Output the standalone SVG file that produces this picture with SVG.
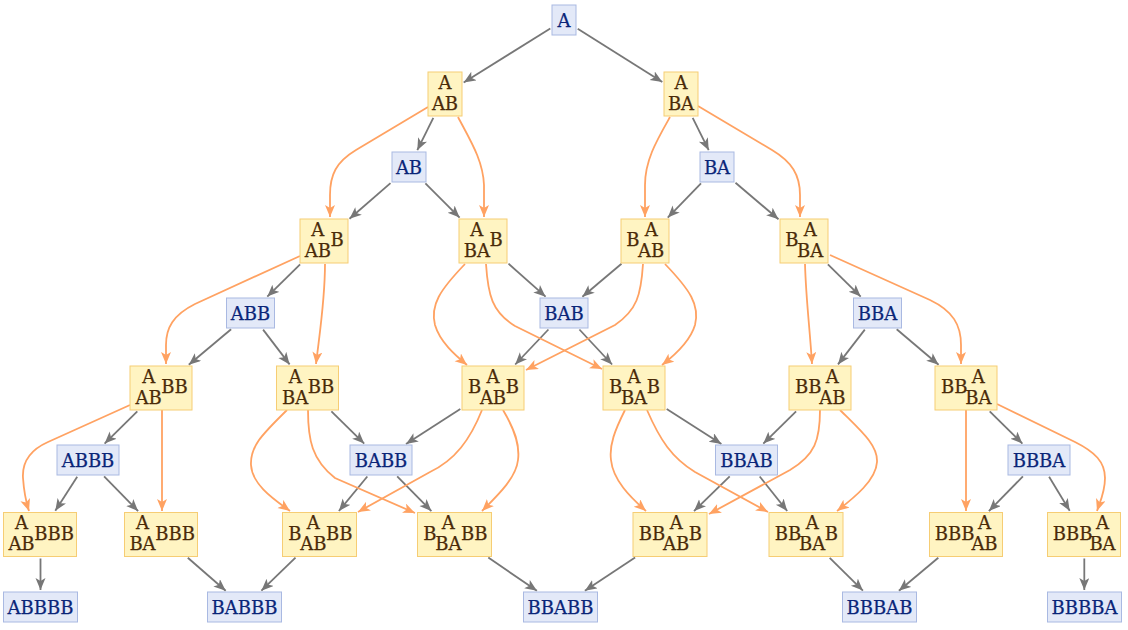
<svg xmlns="http://www.w3.org/2000/svg" width="1128" height="630" viewBox="0 0 1128 630">
<defs>
<style>
.bn rect{fill:#e3e9f8;stroke:#a9b9e2;stroke-width:1}
.yn rect{fill:#fff4c2;stroke:#f6cd74;stroke-width:1}
.bn text{font-family:"DejaVu Serif",serif;font-size:18px;fill:#0a2578;stroke:#0a2578;stroke-width:0.25;text-anchor:middle}
.yn text{font-family:"DejaVu Serif",serif;font-size:18px;fill:#4a2a08;stroke:#4a2a08;stroke-width:0.25}
.yn text.c{text-anchor:middle}
.ge{fill:none;stroke:#777777;stroke-width:1.8;marker-end:url(#ag)}
.oe{fill:none;stroke:#ffa262;stroke-width:1.8;marker-end:url(#ao)}
</style>
<marker id="ag" markerUnits="userSpaceOnUse" markerWidth="13" markerHeight="11" refX="12" refY="5" orient="auto"><path d="M0,0 L12,5 L0,10 L3,5 z" fill="#777777"/></marker>
<marker id="ao" markerUnits="userSpaceOnUse" markerWidth="13" markerHeight="11" refX="12" refY="5" orient="auto"><path d="M0,0 L12,5 L0,10 L3,5 z" fill="#ffa262"/></marker>
</defs>
<rect width="1128" height="630" fill="#ffffff"/>
<g id="connectors">
<path class="ge" d="M550.3,28.5 L463.7,82.4"/>
<path class="ge" d="M577.7,28.7 L662.3,82.1"/>
<path class="ge" d="M433.3,117.8 L417.3,150.2"/>
<path class="ge" d="M692.7,117.8 L708.7,150.2"/>
<path class="ge" d="M390.5,183.1 L349.5,218.8"/>
<path class="ge" d="M425.4,183.4 L459.6,217.6"/>
<path class="ge" d="M701,183.4 L667.8,217.6"/>
<path class="ge" d="M735.5,182.7 L778.5,219.3"/>
<path class="ge" d="M300.1,264.4 L267.3,296.6"/>
<path class="ge" d="M508.5,263.7 L545.6,296.7"/>
<path class="ge" d="M621.5,263.7 L582.4,296.7"/>
<path class="ge" d="M827.9,264.4 L860.7,296.6"/>
<path class="ge" d="M231.1,329.3 L188.8,364.7"/>
<path class="ge" d="M263.1,329.6 L289.6,364.4"/>
<path class="ge" d="M548.4,329.5 L515.2,364.5"/>
<path class="ge" d="M579.4,329.5 L612.1,364.5"/>
<path class="ge" d="M864.8,329.6 L838,364.4"/>
<path class="ge" d="M896.7,329.3 L938.6,364.7"/>
<path class="ge" d="M137.3,411.4 L104.6,443.6"/>
<path class="ge" d="M331.4,411.4 L364.2,443.6"/>
<path class="ge" d="M460.3,409 L406,443.9"/>
<path class="ge" d="M666.7,409 L721.4,443.9"/>
<path class="ge" d="M796.1,411.4 L763.3,443.6"/>
<path class="ge" d="M989.7,411.4 L1022.4,443.6"/>
<path class="ge" d="M77.2,476.7 L55.3,510.8"/>
<path class="ge" d="M104.1,476.4 L138.1,511.1"/>
<path class="ge" d="M367.3,476.5 L338.9,511"/>
<path class="ge" d="M397.2,476.4 L431.4,511.1"/>
<path class="ge" d="M729.7,476.4 L694,511.1"/>
<path class="ge" d="M759.7,476.5 L787.2,511"/>
<path class="ge" d="M1022.9,476.4 L988.9,511.1"/>
<path class="ge" d="M1049.1,476.7 L1069.7,510.8"/>
<path class="ge" d="M40.5,558.5 L40.5,590"/>
<path class="ge" d="M187.8,557.8 L225.7,590.7"/>
<path class="ge" d="M295.5,557.7 L261.4,590.7"/>
<path class="ge" d="M488.3,557.6 L536.9,590.8"/>
<path class="ge" d="M635.1,557.6 L584.9,590.8"/>
<path class="ge" d="M829.7,557.8 L862.9,590.6"/>
<path class="ge" d="M938.3,557.7 L898.9,590.8"/>
<path class="ge" d="M1084.3,558.5 L1084.3,590"/>
<path class="oe" d="M428,107 L356,150 C336,162 330,175 330,195 L330,217"/>
<path class="oe" d="M458,117 C470,140 483,160 484,185 L484,217"/>
<path class="oe" d="M670,117 C657,140 645,160 645,185 L645,217"/>
<path class="oe" d="M698,106 L772,150 C792,162 800,175 800,195 L800,217"/>
<path class="oe" d="M300,256 L195,304 C173,315 166,328 166,345 L166,364"/>
<path class="oe" d="M325,264 C325,300 320,330 316,364"/>
<path class="oe" d="M465,264 C440,290 430,305 435,325 C440,342 455,355 467,365"/>
<path class="oe" d="M486,264 C488,295 492,312 515,326 L602,369"/>
<path class="oe" d="M643,264 C641,295 637,310 615,325 L526,370"/>
<path class="oe" d="M665,264 C690,290 700,305 695,325 C690,342 675,355 662,365"/>
<path class="oe" d="M805,264 C806,300 810,330 812,364"/>
<path class="oe" d="M830,255 L930,300 C953,311 961,325 961,345 L961,364"/>
<path class="oe" d="M130,405 L48,442 C30,450 22,462 23,478 C24,492 26,502 29,511"/>
<path class="oe" d="M162,410 L162,511"/>
<path class="oe" d="M287,410 C265,432 250,445 251,465 C252,485 275,500 290,511"/>
<path class="oe" d="M308,410 C308,440 312,460 335,478 L415,513"/>
<path class="oe" d="M482,410 C470,440 455,460 430,472 L358,512"/>
<path class="oe" d="M503,410 C515,430 520,445 518,460 C516,478 498,495 482,511"/>
<path class="oe" d="M625,410 C615,430 609,445 611,460 C613,480 630,497 646,511"/>
<path class="oe" d="M647,410 C660,440 672,458 695,472 L768,512"/>
<path class="oe" d="M820,410 C820,440 815,455 790,470 L709,514"/>
<path class="oe" d="M840,410 C860,430 878,445 877,462 C876,480 855,497 837,511"/>
<path class="oe" d="M966,410 L966,511"/>
<path class="oe" d="M997,404 L1075,442 C1095,452 1105,462 1105,478 C1105,492 1100,502 1097,511"/>
</g>
<g id="n-A" class="bn"><rect x="552" y="5" width="24" height="30"/><text x="564" y="26.5">A</text></g>
<g id="n-AB" class="bn"><rect x="392" y="152" width="34" height="30"/><text x="409" y="173.5">AB</text></g>
<g id="n-BA" class="bn"><rect x="700" y="152" width="34" height="30"/><text x="717" y="173.5">BA</text></g>
<g id="n-ABB" class="bn"><rect x="226.5" y="298" width="48" height="30"/><text x="250.5" y="319.5">ABB</text></g>
<g id="n-BAB" class="bn"><rect x="540" y="298" width="48" height="30"/><text x="564" y="319.5">BAB</text></g>
<g id="n-BBA" class="bn"><rect x="853.5" y="298" width="48" height="30"/><text x="877.5" y="319.5">BBA</text></g>
<g id="n-ABBB" class="bn"><rect x="57" y="445" width="62" height="30"/><text x="88" y="466.5">ABBB</text></g>
<g id="n-BABB" class="bn"><rect x="350" y="445" width="62" height="30"/><text x="381" y="466.5">BABB</text></g>
<g id="n-BBAB" class="bn"><rect x="715.5" y="445" width="62" height="30"/><text x="746.5" y="466.5">BBAB</text></g>
<g id="n-BBBA" class="bn"><rect x="1008" y="445" width="62" height="30"/><text x="1039" y="466.5">BBBA</text></g>
<g id="n-ABBBB" class="bn"><rect x="3.5" y="592" width="74" height="30"/><text x="40.5" y="613.5">ABBBB</text></g>
<g id="n-BABBB" class="bn"><rect x="207.5" y="592" width="74" height="30"/><text x="244.5" y="613.5">BABBB</text></g>
<g id="n-BBABB" class="bn"><rect x="523.5" y="592" width="74" height="30"/><text x="560.5" y="613.5">BBABB</text></g>
<g id="n-BBBAB" class="bn"><rect x="842.5" y="592" width="74" height="30"/><text x="879.5" y="613.5">BBBAB</text></g>
<g id="n-BBBBA" class="bn"><rect x="1047.5" y="592" width="74" height="30"/><text x="1084.5" y="613.5">BBBBA</text></g>
<g id="s-A-AB" class="yn"><rect x="428" y="72" width="34" height="44"/><text class="c" x="445" y="88.5">A</text><text class="c" x="445" y="109.5">AB</text></g>
<g id="s-A-BA" class="yn"><rect x="664" y="72" width="34" height="44"/><text class="c" x="681" y="88.5">A</text><text class="c" x="681" y="109.5">BA</text></g>
<g id="s-A-AB-B" class="yn"><rect x="300" y="219" width="48" height="44"/><text class="c" x="317.8" y="235.5">A</text><text class="c" x="317.8" y="256.5">AB</text><text x="330.5" y="246">B</text></g>
<g id="s-A-BA-B" class="yn"><rect x="459" y="219" width="48" height="44"/><text class="c" x="476.8" y="235.5">A</text><text class="c" x="476.8" y="256.5">BA</text><text x="489.5" y="246">B</text></g>
<g id="s-B-A-AB" class="yn"><rect x="621" y="219" width="48" height="44"/><text x="626.2" y="246">B</text><text class="c" x="651.2" y="235.5">A</text><text class="c" x="651.2" y="256.5">AB</text></g>
<g id="s-B-A-BA" class="yn"><rect x="780" y="219" width="48" height="44"/><text x="785.2" y="246">B</text><text class="c" x="810.2" y="235.5">A</text><text class="c" x="810.2" y="256.5">BA</text></g>
<g id="s-A-AB-BB" class="yn"><rect x="130" y="366" width="62" height="44"/><text class="c" x="148.7" y="382.5">A</text><text class="c" x="148.7" y="403.5">AB</text><text x="161.3" y="393">BB</text></g>
<g id="s-A-BA-BB" class="yn"><rect x="276.5" y="366" width="62" height="44"/><text class="c" x="295.2" y="382.5">A</text><text class="c" x="295.2" y="403.5">BA</text><text x="307.8" y="393">BB</text></g>
<g id="s-B-A-AB-B" class="yn"><rect x="462" y="366" width="62" height="44"/><text x="468" y="393">B</text><text class="c" x="493" y="382.5">A</text><text class="c" x="493" y="403.5">AB</text><text x="505.7" y="393">B</text></g>
<g id="s-B-A-BA-B" class="yn"><rect x="603" y="366" width="62" height="44"/><text x="609" y="393">B</text><text class="c" x="634" y="382.5">A</text><text class="c" x="634" y="403.5">BA</text><text x="646.7" y="393">B</text></g>
<g id="s-BB-A-AB" class="yn"><rect x="789" y="366" width="62" height="44"/><text x="795" y="393">BB</text><text class="c" x="832.3" y="382.5">A</text><text class="c" x="832.3" y="403.5">AB</text></g>
<g id="s-BB-A-BA" class="yn"><rect x="935" y="366" width="62" height="44"/><text x="941" y="393">BB</text><text class="c" x="978.3" y="382.5">A</text><text class="c" x="978.3" y="403.5">BA</text></g>
<g id="s-A-AB-BBB" class="yn"><rect x="3.5" y="512.5" width="73" height="44"/><text class="c" x="21.5" y="529">A</text><text class="c" x="21.5" y="550">AB</text><text x="34.2" y="539.5">BBB</text></g>
<g id="s-A-BA-BBB" class="yn"><rect x="124.5" y="512.5" width="73" height="44"/><text class="c" x="142.5" y="529">A</text><text class="c" x="142.5" y="550">BA</text><text x="155.2" y="539.5">BBB</text></g>
<g id="s-B-A-AB-BB" class="yn"><rect x="282.5" y="512.5" width="74" height="44"/><text x="288.3" y="539.5">B</text><text class="c" x="313.3" y="529">A</text><text class="c" x="313.3" y="550">AB</text><text x="326" y="539.5">BB</text></g>
<g id="s-B-A-BA-BB" class="yn"><rect x="417.5" y="512.5" width="74" height="44"/><text x="423.3" y="539.5">B</text><text class="c" x="448.3" y="529">A</text><text class="c" x="448.3" y="550">BA</text><text x="461" y="539.5">BB</text></g>
<g id="s-BB-A-AB-B" class="yn"><rect x="633" y="512.5" width="74" height="44"/><text x="638.8" y="539.5">BB</text><text class="c" x="676.2" y="529">A</text><text class="c" x="676.2" y="550">AB</text><text x="688.8" y="539.5">B</text></g>
<g id="s-BB-A-BA-B" class="yn"><rect x="769" y="512.5" width="74" height="44"/><text x="774.8" y="539.5">BB</text><text class="c" x="812.2" y="529">A</text><text class="c" x="812.2" y="550">BA</text><text x="824.8" y="539.5">B</text></g>
<g id="s-BBB-A-AB" class="yn"><rect x="929.5" y="512.5" width="73" height="44"/><text x="934.8" y="539.5">BBB</text><text class="c" x="984.5" y="529">A</text><text class="c" x="984.5" y="550">AB</text></g>
<g id="s-BBB-A-BA" class="yn"><rect x="1047.5" y="512.5" width="73" height="44"/><text x="1052.8" y="539.5">BBB</text><text class="c" x="1102.5" y="529">A</text><text class="c" x="1102.5" y="550">BA</text></g>
</svg>
